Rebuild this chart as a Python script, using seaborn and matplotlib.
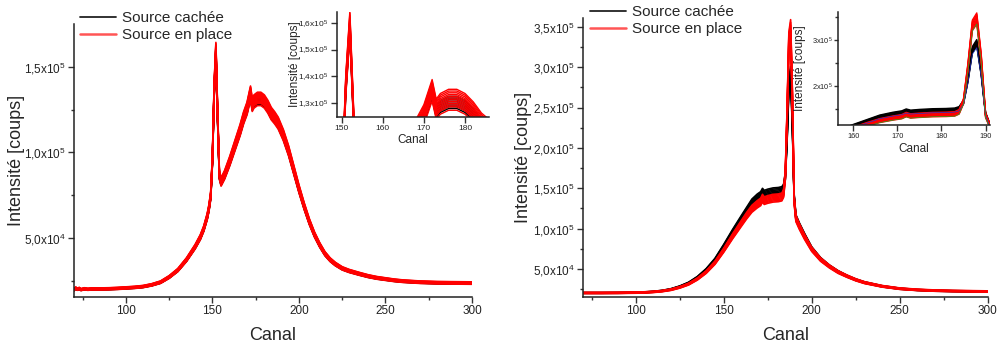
import numpy as np
import pandas as pd
import seaborn as sns
import matplotlib.pyplot as plt
from matplotlib.lines import Line2D

# ---- data ----
# left panel: common spectrum shape, one curve per scale factor
left_canal = [70, 71, 72, 73, 74, 76, 78, 80, 85, 90, 95, 100, 105, 110, 115, 120, 125, 130,
              135, 140, 143, 145, 147, 148, 149, 150, 151, 152, 153, 154, 155, 157, 160, 163,
              166, 168, 170, 172, 173, 174, 176, 178, 180, 182, 184, 186, 188, 191, 194, 197,
              200, 203, 206, 209, 212, 215, 218, 221, 225, 229, 235, 240, 245, 250, 255, 260,
              265, 270, 280, 290, 300]
left_base = [19600, 20600, 19900, 20400, 19700, 20200, 19900, 20100, 20100, 20200, 20400, 20700,
             21000, 21500, 22500, 24000, 27000, 31000, 37000, 44500, 50000, 55000, 62000, 67000,
             74000, 95000, 135000, 158000, 120000, 86000, 82000, 86000, 94000, 103000, 112000,
             119000, 124500, 133500, 126500, 128500, 130000, 130000, 128500, 125500, 121500,
             119000, 116000, 109000, 100000, 89000, 78000, 68000, 59000, 51500, 45500, 40500,
             37000, 34500, 32000, 30500, 28800, 27500, 26500, 25800, 25100, 24600, 24300, 24000,
             23700, 23600, 23500]
left_black_scales = [0.985, 0.99, 0.995, 1.0, 1.005, 1.01, 1.015, 1.02]
left_red_scales = [0.98, 0.99, 0.995, 1.0, 1.005, 1.01, 1.015, 1.02, 1.025, 1.03, 1.035, 1.04]

# right panel: hidden source and source in place differ in shape
right_canal = [70, 80, 90, 100, 105, 110, 115, 120, 125, 130, 135, 140, 145, 150, 155, 160, 163,
               166, 169, 171, 172, 173, 175, 178, 181, 183, 184, 185, 186, 187, 188, 189, 190,
               191, 193, 196, 200, 205, 210, 215, 220, 225, 230, 240, 250, 260, 270, 280, 290, 300]
right_black_base = [20500, 20500, 20600, 20900, 21300, 22000, 23200, 25200, 28500, 33000, 40000,
                    49500, 62000, 79000, 97000, 114000, 124000, 134000, 140000, 143000, 147000,
                    144500, 146000, 147500, 148000, 149000, 152000, 166000, 215000, 280000,
                    295000, 230000, 140000, 115000, 105000, 92000, 76000, 63000, 54000, 47000,
                    41500, 37000, 33500, 28800, 25800, 24200, 23300, 22800, 22500, 22200]
right_red_base = [20300, 20300, 20400, 20700, 21000, 21600, 22600, 24300, 27200, 31200, 37500,
                  46000, 57500, 73000, 90000, 106000, 115500, 124000, 129500, 132500, 137000,
                  134000, 135500, 137000, 137500, 138500, 143000, 166000, 240000, 330000,
                  345000, 260000, 135000, 112000, 102000, 89000, 74000, 61500, 53000, 46000,
                  41000, 36500, 33000, 28500, 25600, 24100, 23200, 22700, 22400, 22100]
right_black_scales = [0.97, 0.98, 0.99, 1.0, 1.01, 1.02]
right_red_scales = [0.97, 0.98, 0.99, 1.0, 1.01, 1.02, 1.03, 1.04]

legend_labels = ['Source cachée', 'Source en place']

left_yticks = [5e4, 1e5, 1.5e5]
left_yticklabels = ['5,0x10$^4$', '1,0x10$^5$', '1,5x10$^5$']
right_yticks = [5e4, 1e5, 1.5e5, 2e5, 2.5e5, 3e5, 3.5e5]
right_yticklabels = ['5,0x10$^4$', '1,0x10$^5$', '1,5x10$^5$', '2,0x10$^5$', '2,5x10$^5$',
                     '3,0x10$^5$', '3,5x10$^5$']
inset_left_yticks = [1.3e5, 1.4e5, 1.5e5, 1.6e5]
inset_left_yticklabels = ['1,3x10$^5$', '1,4x10$^5$', '1,5x10$^5$', '1,6x10$^5$']
inset_right_yticks = [2e5, 3e5]
inset_right_yticklabels = ['2x10$^5$', '3x10$^5$']


def make_df(canal, base, scales, source):
    rows = []
    for i, s in enumerate(scales):
        for c, v in zip(canal, base):
            rows.append({'Canal': c, 'Intensite': v * s, 'courbe': i, 'source': source})
    return pd.DataFrame(rows)


df_left = pd.concat([make_df(left_canal, left_base, left_black_scales, 'cachee'),
                     make_df(left_canal, left_base, left_red_scales, 'place')])
df_right = pd.concat([make_df(right_canal, right_black_base, right_black_scales, 'cachee'),
                      make_df(right_canal, right_red_base, right_red_scales, 'place')])
df_extra = pd.concat([make_df(right_canal, right_black_base, [0.96], 'bleu'),
                      make_df(right_canal, right_red_base, [0.97], 'vert')])

sns.set_style('ticks')
plt.rcParams['font.family'] = ['Liberation Sans', 'DejaVu Sans']
plt.rcParams['mathtext.default'] = 'regular'

pal = {'cachee': 'black', 'place': 'red', 'bleu': '#2233cc', 'vert': '#22aa22'}


def draw(ax, df, lw):
    sns.lineplot(data=df, x='Canal', y='Intensite', hue='source', units='courbe',
                 estimator=None, sort=False, palette=pal, lw=lw, legend=False, ax=ax)


def style(ax, xticks, xminor, yticks, ylabels, yminor, fs_tick, fs_lab, xlab_y, ylab_x):
    sns.despine(ax=ax)
    ax.set_xticks(xticks)
    ax.set_xticks(xminor, minor=True)
    ax.set_yticks(yticks)
    ax.set_yticklabels(ylabels)
    ax.set_yticks(yminor, minor=True)
    ax.tick_params(which='major', direction='out', length=4, width=1, labelsize=fs_tick,
                   colors='#333333', labelcolor='#222222', pad=2)
    ax.tick_params(which='minor', direction='out', length=2.5, width=1, colors='#333333')
    for s in ax.spines.values():
        s.set_linewidth(1.1)
        s.set_color('#222222')
    ax.set_xlabel('Canal', fontsize=fs_lab)
    ax.set_ylabel('Intensité [coups]', fontsize=fs_lab)
    ax.xaxis.set_label_coords(0.5, xlab_y)
    ax.yaxis.set_label_coords(ylab_x, 0.5)


fig = plt.figure(figsize=(10, 3.49), dpi=100)

# left main
ax1 = fig.add_axes([0.074, 0.149, 0.398, 0.782])
draw(ax1, df_left, 1.2)
ax1.set_xlim(70, 300)
ax1.set_ylim(15600, 175000)
style(ax1, [100, 150, 200, 250, 300], [75, 125, 175, 225, 275], left_yticks, left_yticklabels,
      [2.5e4, 7.5e4, 1.25e5], 8.5, 13, -0.11, -0.123)

# left inset
ax1i = fig.add_axes([0.3367, 0.6656, 0.1526, 0.301])
draw(ax1i, df_left, 1.0)
ax1i.set_xlim(148.8, 185.9)
ax1i.set_ylim(125000, 164100)
style(ax1i, [150, 160, 170, 180], [], inset_left_yticks, inset_left_yticklabels, [],
      6, 8.5, -0.16, -0.234)

# right main
ax2 = fig.add_axes([0.583, 0.1504, 0.4047, 0.798])
draw(ax2, df_right, 1.2)
ax2.set_xlim(70, 300)
ax2.set_ylim(16000, 360800)
style(ax2, [100, 150, 200, 250, 300], [75, 125, 175, 225, 275], right_yticks, right_yticklabels,
      [2.5e4, 7.5e4, 1.25e5, 1.75e5, 2.25e5, 2.75e5, 3.25e5], 8.5, 13, -0.108, -0.126)

# right inset
ax2i = fig.add_axes([0.8383, 0.6418, 0.1517, 0.3247])
draw(ax2i, df_right, 1.0)
draw(ax2i, df_extra, 0.5)
ax2i.set_xlim(156.6, 191)
ax2i.set_ylim(115000, 361500)
style(ax2i, [160, 170, 180, 190], [], inset_right_yticks, inset_right_yticklabels,
      [1.5e5, 2.5e5, 3.5e5], 5.3, 8.5, -0.16, -0.215)
ax2i.tick_params(axis='y', which='major', pad=1, length=3)

handles = [Line2D([], [], color='#222222', lw=1.3),
           Line2D([], [], color='#ff5555', lw=1.8)]
fig.legend(handles, legend_labels, loc='upper left', bbox_to_anchor=(0.078, 0.972),
           frameon=False, fontsize=11, handlelength=2.4, handletextpad=0.4,
           labelspacing=0.2, borderpad=0.1, borderaxespad=0)
fig.legend(handles, legend_labels, loc='upper left', bbox_to_anchor=(0.588, 0.99),
           frameon=False, fontsize=11, handlelength=2.4, handletextpad=0.4,
           labelspacing=0.2, borderpad=0.1, borderaxespad=0)

fig.savefig('out.png', dpi=100)
